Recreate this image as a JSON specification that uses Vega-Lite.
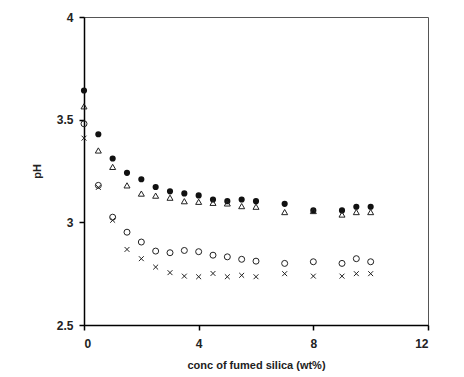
{
  "$schema": "https://vega.github.io/schema/vega-lite/v6.json",
  "width": 344,
  "height": 308,
  "autosize": {"type": "none"},
  "padding": {"left": 84, "top": 17, "right": 36, "bottom": 52},
  "background": "white",
  "config": {
    "view": {"stroke": "#555", "strokeWidth": 1},
    "font": "Liberation Sans",
    "axis": {
      "domainColor": "black", "domainWidth": 1.5, "tickColor": "black", "tickWidth": 1.5, "tickSize": 5,
      "grid": false, "labelFont": "Liberation Sans", "labelFontWeight": "bold", "labelFontSize": 12, "labelColor": "#222",
      "titleFont": "Liberation Sans", "titleFontWeight": "bold", "titleFontSize": 11, "titleColor": "#222"
    }
  },
  "data": {"values": [
    {"s": "a", "x": 0, "y": 3.642}, {"s": "a", "x": 0.5, "y": 3.429}, {"s": "a", "x": 1, "y": 3.311}, {"s": "a", "x": 1.5, "y": 3.241},
    {"s": "a", "x": 2, "y": 3.21}, {"s": "a", "x": 2.5, "y": 3.172}, {"s": "a", "x": 3, "y": 3.151}, {"s": "a", "x": 3.5, "y": 3.141},
    {"s": "a", "x": 4, "y": 3.131}, {"s": "a", "x": 4.5, "y": 3.111}, {"s": "a", "x": 5, "y": 3.103}, {"s": "a", "x": 5.5, "y": 3.111},
    {"s": "a", "x": 6, "y": 3.103}, {"s": "a", "x": 7, "y": 3.09}, {"s": "a", "x": 8, "y": 3.058}, {"s": "a", "x": 9, "y": 3.058},
    {"s": "a", "x": 9.5, "y": 3.076}, {"s": "a", "x": 10, "y": 3.076},
    {"s": "b", "x": 0, "y": 3.565}, {"s": "b", "x": 0.5, "y": 3.35}, {"s": "b", "x": 1, "y": 3.27}, {"s": "b", "x": 1.5, "y": 3.18},
    {"s": "b", "x": 2, "y": 3.14}, {"s": "b", "x": 2.5, "y": 3.13}, {"s": "b", "x": 3, "y": 3.12}, {"s": "b", "x": 3.5, "y": 3.103},
    {"s": "b", "x": 4, "y": 3.1}, {"s": "b", "x": 4.5, "y": 3.095}, {"s": "b", "x": 5, "y": 3.092}, {"s": "b", "x": 5.5, "y": 3.079},
    {"s": "b", "x": 6, "y": 3.076}, {"s": "b", "x": 7, "y": 3.05}, {"s": "b", "x": 8, "y": 3.055}, {"s": "b", "x": 9, "y": 3.038},
    {"s": "b", "x": 9.5, "y": 3.05}, {"s": "b", "x": 10, "y": 3.05},
    {"s": "c", "x": 0, "y": 3.48}, {"s": "c", "x": 0.5, "y": 3.18}, {"s": "c", "x": 1, "y": 3.025}, {"s": "c", "x": 1.5, "y": 2.952},
    {"s": "c", "x": 2, "y": 2.904}, {"s": "c", "x": 2.5, "y": 2.86}, {"s": "c", "x": 3, "y": 2.852}, {"s": "c", "x": 3.5, "y": 2.863},
    {"s": "c", "x": 4, "y": 2.857}, {"s": "c", "x": 4.5, "y": 2.84}, {"s": "c", "x": 5, "y": 2.832}, {"s": "c", "x": 5.5, "y": 2.82},
    {"s": "c", "x": 6, "y": 2.811}, {"s": "c", "x": 7, "y": 2.8}, {"s": "c", "x": 8, "y": 2.808}, {"s": "c", "x": 9, "y": 2.8},
    {"s": "c", "x": 9.5, "y": 2.823}, {"s": "c", "x": 10, "y": 2.808},
    {"s": "d", "x": 0, "y": 3.41}, {"s": "d", "x": 0.5, "y": 3.17}, {"s": "d", "x": 1, "y": 3.01}, {"s": "d", "x": 1.5, "y": 2.868},
    {"s": "d", "x": 2, "y": 2.823}, {"s": "d", "x": 2.5, "y": 2.782}, {"s": "d", "x": 3, "y": 2.755}, {"s": "d", "x": 3.5, "y": 2.738},
    {"s": "d", "x": 4, "y": 2.735}, {"s": "d", "x": 4.5, "y": 2.751}, {"s": "d", "x": 5, "y": 2.735}, {"s": "d", "x": 5.5, "y": 2.742},
    {"s": "d", "x": 6, "y": 2.735}, {"s": "d", "x": 7, "y": 2.75}, {"s": "d", "x": 8, "y": 2.738}, {"s": "d", "x": 9, "y": 2.738},
    {"s": "d", "x": 9.5, "y": 2.75}, {"s": "d", "x": 10, "y": 2.75}
  ]},
  "encoding": {
    "x": {"field": "x", "type": "quantitative", "scale": {"domain": [0, 12], "nice": false},
      "axis": {"values": [0, 4, 8, 12], "title": "conc of fumed silica (wt%)", "labelPadding": 8, "titlePadding": 10, "format": "d"}},
    "y": {"field": "y", "type": "quantitative", "scale": {"domain": [2.5, 4], "nice": false, "zero": false},
      "axis": {"values": [2.5, 3, 3.5, 4], "title": "pH", "labelPadding": 6, "titlePadding": 14, "format": "~g"}}
  },
  "layer": [
    {"transform": [{"filter": "datum.s === 'a'"}], "mark": {"type": "point", "shape": "circle", "filled": true, "color": "#111", "size": 38, "opacity": 1}},
    {"transform": [{"filter": "datum.s === 'b'"}], "mark": {"type": "point", "shape": "triangle-up", "filled": false, "color": "#222", "size": 36, "strokeWidth": 1, "opacity": 1}},
    {"transform": [{"filter": "datum.s === 'c'"}], "mark": {"type": "point", "shape": "circle", "filled": false, "color": "#222", "size": 36, "strokeWidth": 1, "opacity": 1}},
    {"transform": [{"filter": "datum.s === 'd'"}], "mark": {"type": "point", "shape": "M-1,-1L1,1M-1,1L1,-1", "filled": false, "color": "#222", "size": 24, "strokeWidth": 1, "opacity": 1}}
  ]
}
